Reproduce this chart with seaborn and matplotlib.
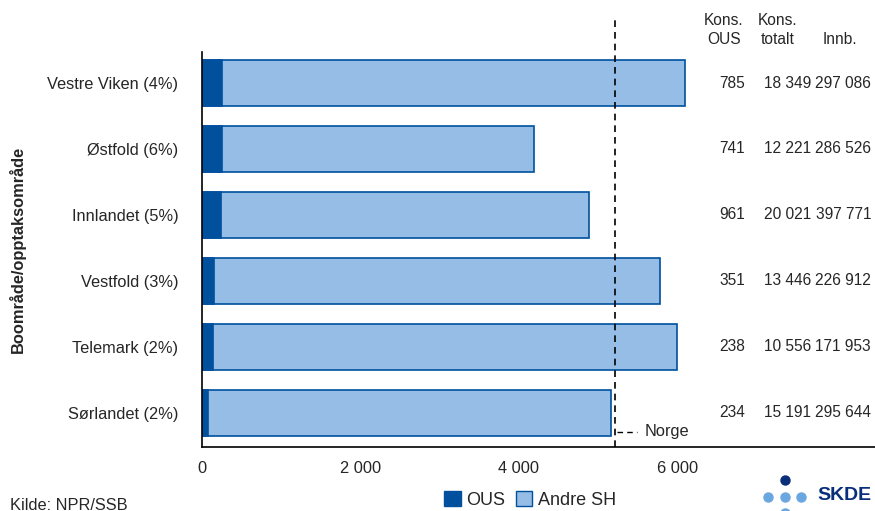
import numpy as np
import pandas as pd
import matplotlib
matplotlib.use("Agg")
import matplotlib.pyplot as plt
from matplotlib.patches import Patch
import seaborn as sns

# data (rates per 100 000 inhabitants)
omrader = ["Vestre Viken (4%)", "Østfold (6%)", "Innlandet (5%)",
           "Vestfold (3%)", "Telemark (2%)", "Sørlandet (2%)"]
rate_ous = [255, 255, 240, 152, 139, 76]
rate_total = [6100, 4190, 4885, 5780, 5995, 5160]
norge = 5215

kons_ous = ["785", "741", "961", "351", "238", "234"]
kons_totalt = ["18 349", "12 221", "20 021", "13 446", "10 556", "15 191"]
innb = ["297 086", "286 526", "397 771", "226 912", "171 953", "295 644"]

xticks = [0, 2000, 4000, 6000]
xticklabels = ["0", "2 000", "4 000", "6 000"]

dark = "#00509e"
light = "#95bde6"
fs = 11.8
fs_num = 11.2

sns.set_style("white")
plt.rcParams["font.family"] = ["Liberation Sans", "DejaVu Sans"]

df = pd.DataFrame({"omrade": omrader, "ous": rate_ous, "total": rate_total})

fig = plt.figure(figsize=(8.75, 5.11), dpi=100)
ax = fig.add_axes([0.2309, 0.1252, 0.7691, 0.7730])

sns.barplot(data=df, x="total", y="omrade", color=light, edgecolor=dark,
            linewidth=1.2, width=0.7, saturation=1, ax=ax)
sns.barplot(data=df, x="ous", y="omrade", color=dark, edgecolor=dark,
            linewidth=1.2, width=0.7, saturation=1, ax=ax)

ax.set_xlim(0, 8500)
ax.set_ylim(5.52, -0.47)
ax.set_xticks(xticks)
ax.set_xticklabels(xticklabels, fontsize=fs)
ax.tick_params(axis="x", direction="out", length=6, width=1, color="black", pad=4)
ax.tick_params(axis="y", length=0, labelsize=fs, pad=17)
ax.set_xlabel("")
ax.set_ylabel("Boområde/opptaksområde", fontsize=fs, fontweight="bold")
ax.yaxis.set_label_coords(-0.262, 0.5)

for s in ["top", "right"]:
    ax.spines[s].set_visible(False)
for s in ["left", "bottom"]:
    ax.spines[s].set_color("black")
    ax.spines[s].set_linewidth(1.2)

# Norge reference line
ax.plot([norge, norge], [5.52, -0.95], color="black", ls=(0, (4, 3)), lw=1.2,
        clip_on=False)
ax.plot([norge + 30, norge + 280], [5.29, 5.29], color="black", ls=(0, (4, 3)), lw=1)
ax.text(norge + 370, 5.29, "Norge", fontsize=fs, va="center", ha="left")

# table columns
for i in range(len(omrader)):
    ax.text(6860, i, kons_ous[i], ha="right", va="center", fontsize=fs_num)
    ax.text(7690, i, kons_totalt[i], ha="right", va="center", fontsize=fs_num)
    ax.text(8450, i, innb[i], ha="right", va="center", fontsize=fs_num)

fig.text(724 / 875, 1 - 30 / 511, "Kons.\nOUS", ha="center", va="center",
         fontsize=fs_num, linespacing=1.3)
fig.text(778 / 875, 1 - 30 / 511, "Kons.\ntotalt", ha="center", va="center",
         fontsize=fs_num, linespacing=1.3)
fig.text(840 / 875, 1 - 40 / 511, "Innb.", ha="center", va="center", fontsize=fs_num)

# legend
handles = [Patch(facecolor=dark, edgecolor=dark, label="OUS"),
           Patch(facecolor=light, edgecolor=dark, label="Andre SH")]
fig.legend(handles=handles, loc="center", bbox_to_anchor=(530 / 875, 1 - 500 / 511),
           ncol=2, frameon=False, fontsize=13, handlelength=0.9, handleheight=0.9,
           handletextpad=0.3, columnspacing=0.6, borderpad=0)

fig.text(10 / 875, 1 - 505 / 511, "Kilde: NPR/SSB", ha="left", va="center", fontsize=fs)

# SKDE logo
logo_dark = "#0a2f7a"
logo_light = "#6aa6e0"
for dx, dy, c in [(785, 480, logo_dark), (768, 497, logo_light), (785, 497, logo_light),
                  (801, 497, logo_light), (785, 513, logo_light)]:
    fig.add_artist(plt.Line2D([dx / 875], [1 - dy / 511], marker="o", ms=6.5,
                              color=c, transform=fig.transFigure))
fig.text(817 / 875, 1 - 496 / 511, "SKDE", ha="left", va="center", fontsize=14,
         fontweight="bold", color=logo_dark)

fig.savefig("out.png", dpi=100)
